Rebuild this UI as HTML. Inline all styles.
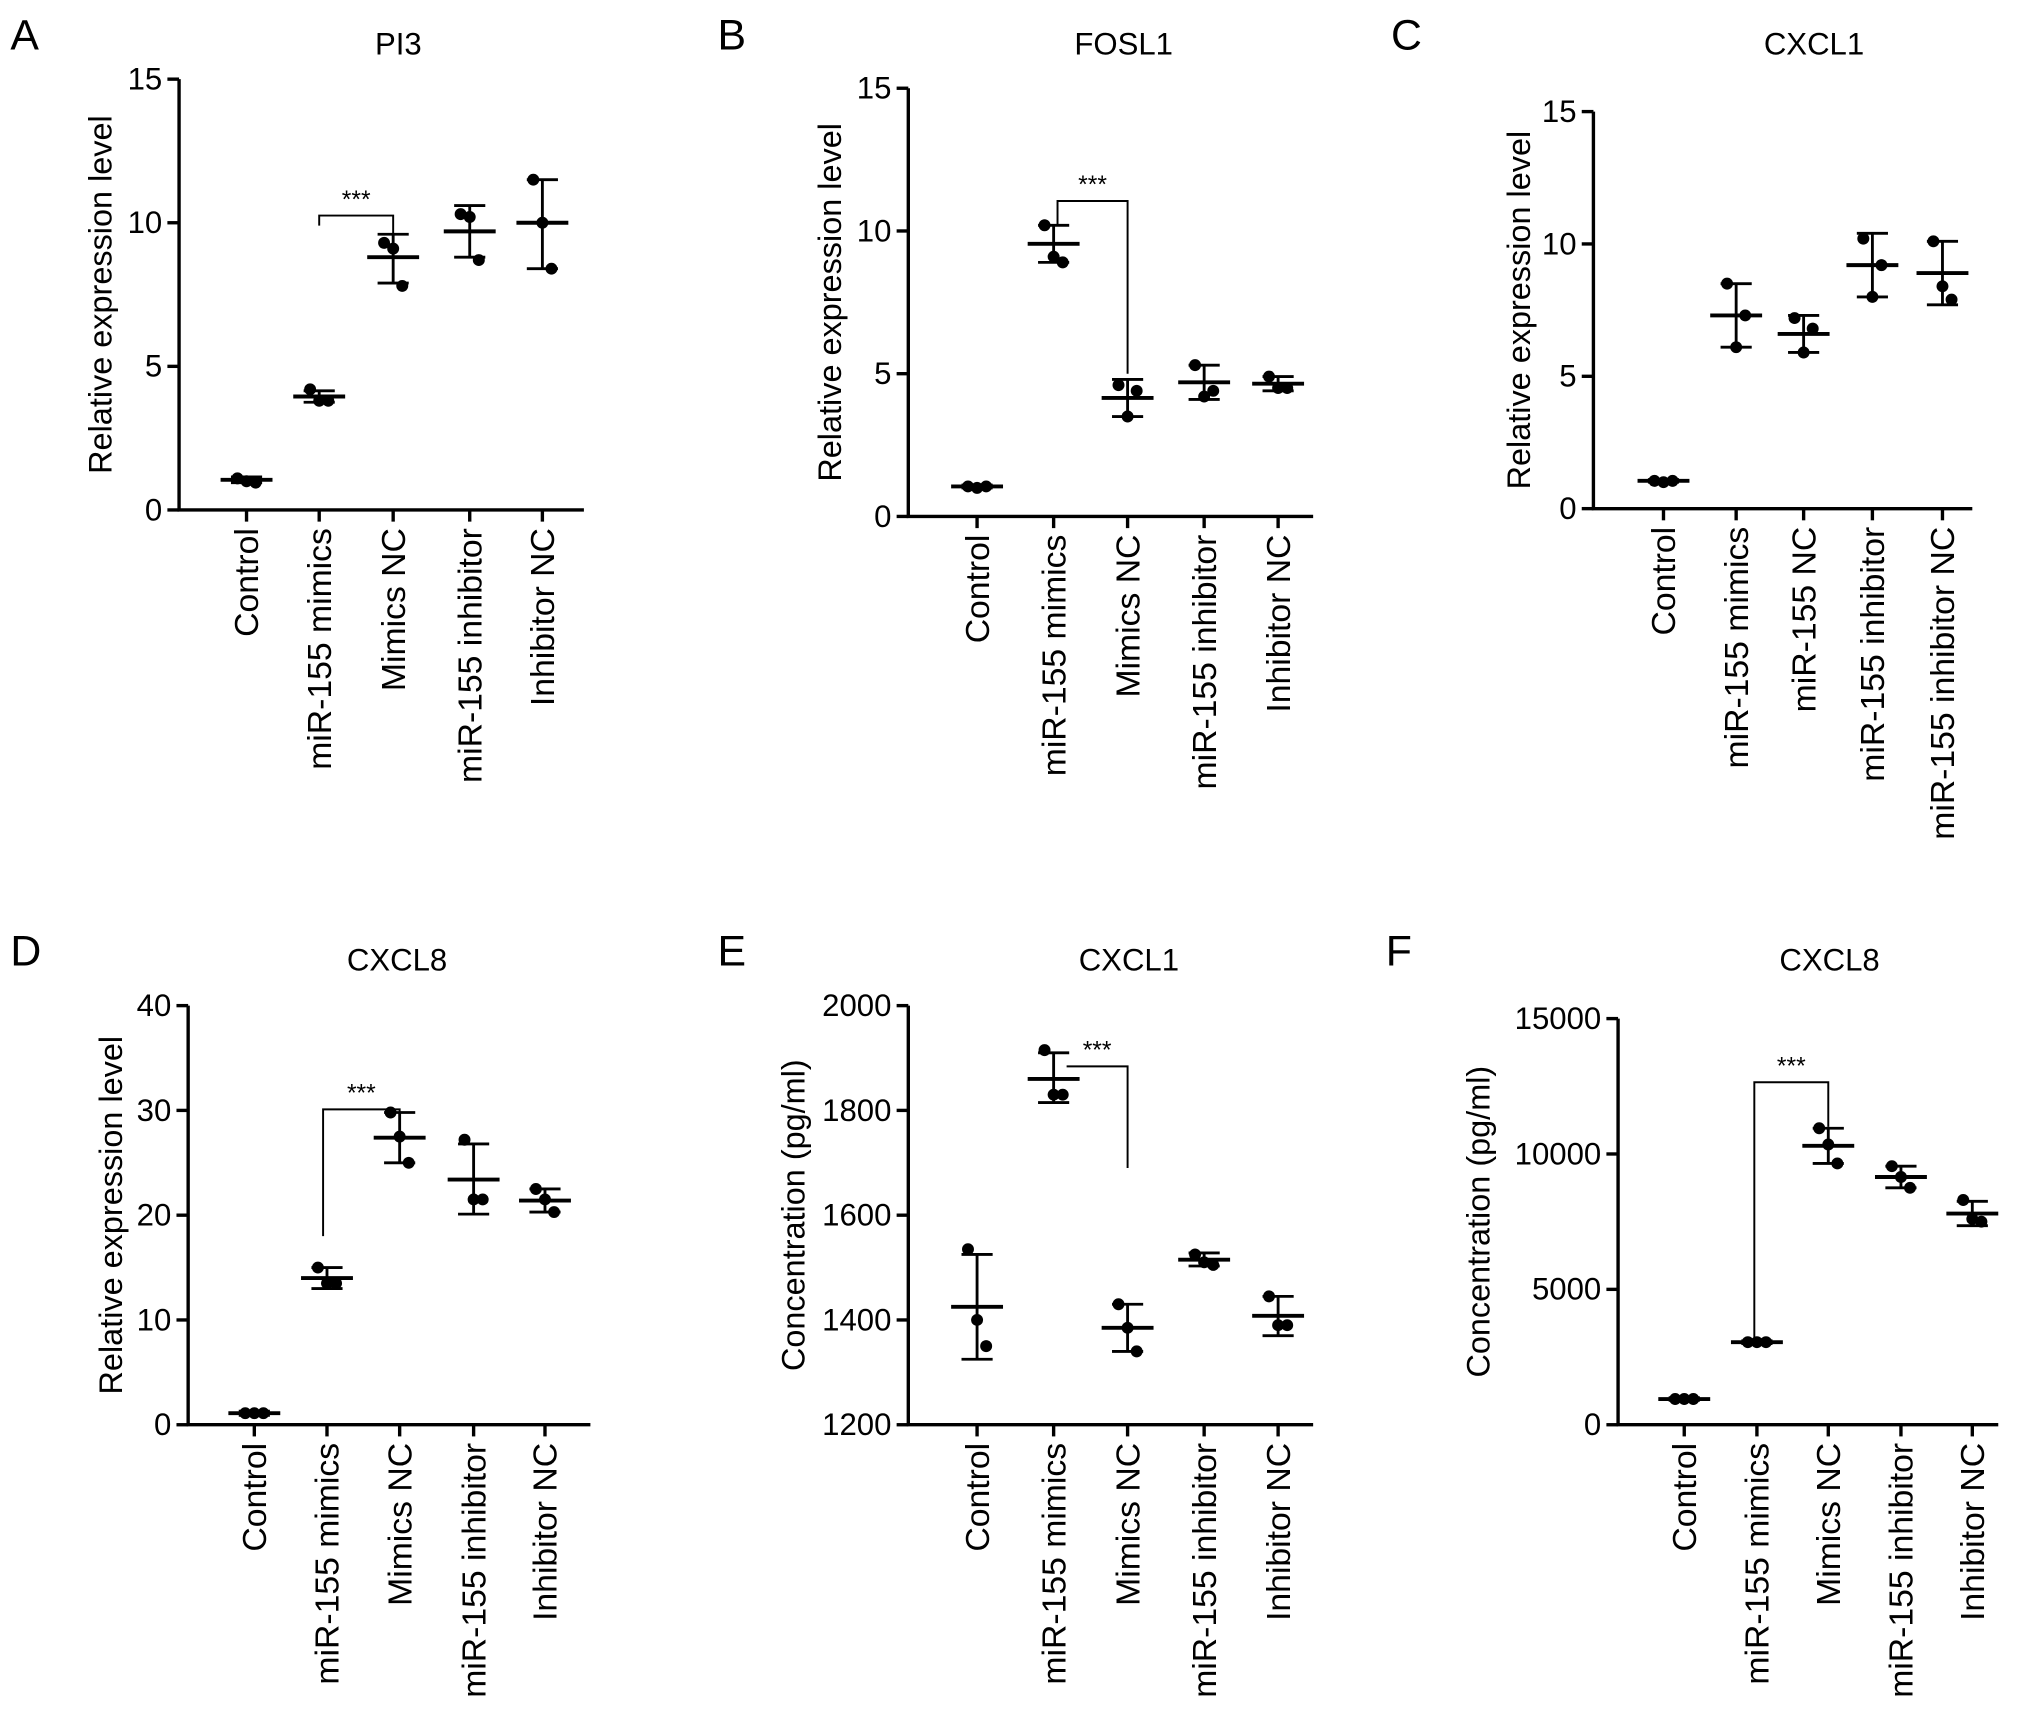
<!DOCTYPE html>
<html><head><meta charset="utf-8"><style>
html,body{margin:0;padding:0;background:#fff;}
svg{display:block;font-family:"Liberation Sans",Arial,sans-serif;}
</style></head><body>
<svg id="fig" width="2032" height="1725" viewBox="0 0 1566 1329.4" xmlns="http://www.w3.org/2000/svg"></svg>
<script>
const catsStd = ["Control","miR-155 mimics","Mimics NC","miR-155 inhibitor","Inhibitor NC"];
const catsC = ["Control","miR-155 mimics","miR-155 NC","miR-155 inhibitor","miR-155 inhibitor NC"];
// Panel A PI3
const aMean=[1.05,3.95,8.8,9.7,10.0];
const aLo=[0.95,3.75,7.9,8.8,8.4];
const aHi=[1.15,4.15,9.6,10.6,11.5];
const aPts=[[1.1,1.0,0.95],[4.2,3.8,3.8],[9.3,9.1,7.8],[10.3,10.2,8.7],[11.5,10.0,8.4]];
const aTicks=[0,5,10,15];
// Panel B FOSL1
const bMean=[1.05,9.55,4.15,4.7,4.65];
const bLo=[1.0,8.9,3.5,4.1,4.4];
const bHi=[1.1,10.2,4.8,5.3,4.9];
const bPts=[[1.05,1.0,1.05],[10.2,9.1,8.9],[4.6,3.5,4.4],[5.3,4.2,4.4],[4.9,4.5,4.5]];
const bTicks=[0,5,10,15];
// Panel C CXCL1
const cMean=[1.05,7.3,6.6,9.2,8.9];
const cLo=[1.0,6.1,5.9,8.0,7.7];
const cHi=[1.1,8.5,7.3,10.4,10.1];
const cPts=[[1.05,1.0,1.05],[8.5,6.1,7.3],[7.2,5.9,6.8],[10.2,8.0,9.2],[10.1,8.4,7.9]];
const cTicks=[0,5,10,15];
// Panel D CXCL8
const dMean=[1.1,14,27.4,23.4,21.4];
const dLo=[0.9,13,25,20.1,20.3];
const dHi=[1.3,15,29.8,26.8,22.5];
const dPts=[[1.1,1.1,1.1],[15,13.5,13.5],[29.8,27.5,25],[27.2,21.5,21.5],[22.5,21.5,20.3]];
const dTicks=[0,10,20,30,40];
// Panel E CXCL1 ELISA
const eMean=[1425,1860,1385,1515,1408];
const eLo=[1325,1815,1340,1503,1370];
const eHi=[1525,1910,1430,1528,1445];
const ePts=[[1535,1400,1350],[1915,1830,1830],[1430,1385,1340],[1525,1510,1505],[1445,1390,1390]];
const eTicks=[1200,1400,1600,1800,2000];
// Panel F CXCL8 ELISA
const fMean=[950,3050,10300,9150,7800];
const fLo=[900,3000,9650,8750,7350];
const fHi=[1000,3100,10950,9550,8250];
const fPts=[[950,950,950],[3050,3050,3050],[10950,10350,9650],[9550,9150,8750],[8300,7600,7500]];
const fTicks=[0,5000,10000,15000];

const NS="http://www.w3.org/2000/svg";
const svg=document.getElementById('fig');
function mk(tag,attrs,parent,text){const e=document.createElementNS(NS,tag);for(const k in attrs)e.setAttribute(k,attrs[k]);if(text!==undefined)e.textContent=text;(parent||svg).appendChild(e);return e;}

function panel(o){
  const g=mk('g',{});
  
  
  const y=v=>o.y0-(v-o.vmin)/(o.vmax-o.vmin)*(o.y0-o.y1);
  const x=i=>o.xs[i];
  const L=mk('text',{x:o.lx,y:o.ly,'font-size':33},g,o.letter);
  
  
  const T=mk('text',{x:o.tx,y:o.ty,'font-size':24,'text-anchor':'middle'},g,o.title);
  
  
  const ax=mk('path',{d:`M${o.ax} ${o.y1}V${o.y0}H${o.axEnd}`,stroke:'#000','stroke-width':2.6,fill:'none'},g);
  
  
  o.ticks.forEach(t=>{
    mk('line',{x1:o.ax-9,x2:o.ax,y1:y(t),y2:y(t),stroke:'#000','stroke-width':2.6},g);
    const tl=mk('text',{x:o.ax-13,y:y(t)+8,'font-size':24,'text-anchor':'end'},g,t);
    
    
  });
  const yl=mk('text',{transform:`translate(${o.ylx},${(o.y0+o.y1)/2}) rotate(-90)`,'font-size':25,'text-anchor':'middle'},g,o.ylabel);
  
  
  o.cats.forEach((c,i)=>{
    mk('line',{x1:x(i),x2:x(i),y1:o.y0,y2:o.y0+9,stroke:'#000','stroke-width':2.6},g);
    const cl=mk('text',{transform:`translate(${x(i)+9},${o.y0+14}) rotate(-90)`,'font-size':26,'text-anchor':'end'},g,c);
    
    
  });
  o.mean.forEach((m,i)=>{
    const gg=mk('g',{},g);
    
    
    o.pts[i].forEach((p,j)=>{
      const c=mk('circle',{cx:x(i)+(j-1)*7,cy:y(p),r:4.6,fill:'#000'},gg);
      
      
    });
    mk('line',{x1:x(i),x2:x(i),y1:y(o.lo[i]),y2:y(o.hi[i]),stroke:'#000','stroke-width':2.2},gg);
    mk('line',{x1:x(i)-12,x2:x(i)+12,y1:y(o.lo[i]),y2:y(o.lo[i]),stroke:'#000','stroke-width':2.2},gg);
    mk('line',{x1:x(i)-12,x2:x(i)+12,y1:y(o.hi[i]),y2:y(o.hi[i]),stroke:'#000','stroke-width':2.2},gg);
    const mb=mk('line',{x1:x(i)-20,x2:x(i)+20,y1:y(m),y2:y(m),stroke:'#000','stroke-width':3},gg);
    
    
  });
  if(o.br){
    const b=o.br;
    const p=mk('path',{d:`M${x(b.i)+b.dx} ${y(b.l)}V${y(b.top)}H${x(b.j)}V${y(b.r)}`,stroke:'#000','stroke-width':1.5,fill:'none'},g);
    
    
    const s=mk('text',{x:(x(b.i)+b.dx+x(b.j))/2,y:y(b.top)-6,'font-size':19,'text-anchor':'middle'},g,'***');
    
    
  }
}
const rel="Relative expression level", conc="Concentration (pg/ml)";
panel({letter:'A',lx:8,ly:38,title:'PI3',tx:307,ty:42,ax:138,axEnd:450,y0:393,y1:61,vmin:0,vmax:15,ticks:aTicks,ylx:86,ylabel:rel,cats:catsStd,xs:[190,246,303,362,418],mean:aMean,lo:aLo,hi:aHi,pts:aPts,br:{i:1,j:2,dx:0,l:9.9,top:10.25,r:9.6}});
panel({letter:'B',lx:553,ly:38,title:'FOSL1',tx:866,ty:42,ax:700,axEnd:1012,y0:398,y1:68,vmin:0,vmax:15,ticks:bTicks,ylx:648,ylabel:rel,cats:catsStd,xs:[753,812,869,928,985],mean:bMean,lo:bLo,hi:bHi,pts:bPts,br:{i:1,j:2,dx:3,l:10.2,top:11.05,r:5.0}});
panel({letter:'C',lx:1072,ly:38,title:'CXCL1',tx:1398,ty:42,ax:1228,axEnd:1520,y0:392,y1:86,vmin:0,vmax:15,ticks:cTicks,ylx:1179,ylabel:rel,cats:catsC,xs:[1282,1338,1390,1443,1497],mean:cMean,lo:cLo,hi:cHi,pts:cPts});
panel({letter:'D',lx:8,ly:744,title:'CXCL8',tx:306,ty:748,ax:145,axEnd:455,y0:1098,y1:775,vmin:0,vmax:40,ticks:dTicks,ylx:94,ylabel:rel,cats:catsStd,xs:[196,252,308,365,420],mean:dMean,lo:dLo,hi:dHi,pts:dPts,br:{i:1,j:2,dx:-3,l:18,top:30.1,r:29.9}});
panel({letter:'E',lx:553,ly:744,title:'CXCL1',tx:870,ty:748,ax:700,axEnd:1012,y0:1098,y1:775,vmin:1200,vmax:2000,ticks:eTicks,ylx:620,ylabel:conc,cats:catsStd,xs:[753,812,869,928,985],mean:eMean,lo:eLo,hi:eHi,pts:ePts,br:{i:1,j:2,dx:10,l:1884,top:1884,r:1690}});
panel({letter:'F',lx:1068,ly:744,title:'CXCL8',tx:1410,ty:748,ax:1247,axEnd:1540,y0:1098,y1:785,vmin:0,vmax:15000,ticks:fTicks,ylx:1148,ylabel:conc,cats:catsStd,xs:[1298,1354,1409,1465,1520],mean:fMean,lo:fLo,hi:fHi,pts:fPts,br:{i:1,j:2,dx:-2,l:3200,top:12650,r:11000}});
</script>
</body></html>
